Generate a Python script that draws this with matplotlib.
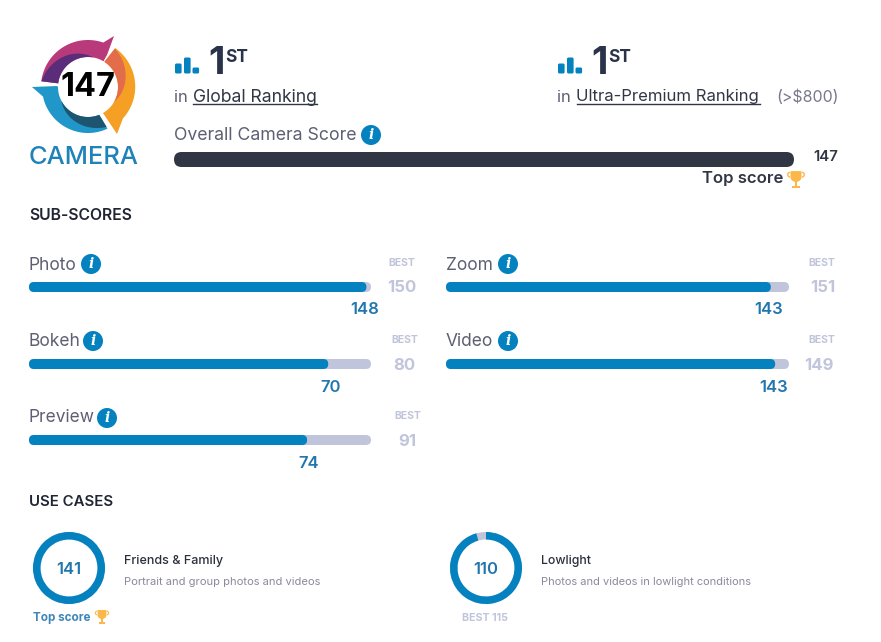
import numpy as np
import matplotlib
matplotlib.use("Agg")
import matplotlib.pyplot as plt
from matplotlib.patches import Circle, FancyBboxPatch, Polygon, Wedge

# Scores
camera_score = 147
camera_best = 147
rank_text = ["Global Ranking", "Ultra-Premium Ranking"]
sub_names = ["Photo", "Bokeh", "Preview", "Zoom", "Video"]
sub_scores = [148, 70, 74, 143, 143]
sub_best = [150, 80, 91, 151, 149]
case_names = ["Friends & Family", "Lowlight"]
case_desc = ["Portrait and group photos and videos", "Photos and videos in lowlight conditions"]
case_scores = [141, 110]
case_best = [141, 115]

BLUE = "#0481bf"
GREY = "#c1c5dc"
DARK = "#303644"
LABEL = "#5e5f73"
VALUE = "#2276ae"
GOLD = "#fbb848"
FONT = "Inter"

plt.rcParams["font.family"] = [FONT, "DejaVu Sans"]

fig = plt.figure(figsize=(8.81, 6.42), dpi=100)
ax = fig.add_axes([0, 0, 1, 1])
ax.set_xlim(0, 881)
ax.set_ylim(642, 0)
ax.axis("off")
renderer = fig.canvas.get_renderer()


def txt(x, y, s, size, color, weight="normal", ha="left", width=None, **kw):
    t = ax.text(x, y + 2, s, fontsize=size, color=color, fontweight=weight,
                ha=ha, va="center", **kw)
    if width is not None:
        # scale the font so the string spans the wanted number of pixels
        t.set_fontsize(size * width / t.get_window_extent(renderer).width)
    return t


def rbar(x, y, w, h, color, z=2, r=None):
    r = h / 2 if r is None else r
    w = max(w, 2 * r)
    ax.add_patch(FancyBboxPatch((x + r, y + r), w - 2 * r, h - 2 * r,
                                boxstyle=f"round,pad={r},rounding_size={r}",
                                fc=color, ec="none", zorder=z))


def info(x, y):
    ax.add_patch(Circle((x, y), 10, fc=BLUE, ec="none", zorder=3))
    ax.text(x, y, "i", fontsize=10, color="white", family="DejaVu Serif",
            style="italic", fontweight="bold", ha="center", va="center", zorder=4)


def trophy(x, y, s=1.0, sy=1.0):
    # small cup with two handles and a foot
    a = np.linspace(0, np.pi, 20)
    cup = [(x - 5.5 * s, y - 7 * sy), (x + 5.5 * s, y - 7 * sy)]
    cup += [(x + 5.5 * s * np.cos(t), y - 2 * sy + 4 * sy * np.sin(t)) for t in a]
    ax.add_patch(Polygon(cup, fc=GOLD, ec="none", zorder=3))
    for side in (-1, 1):
        hx = x + side * 6 * s
        ax.add_patch(Wedge((hx, y - 4 * sy), 3 * s,
                           -90 if side > 0 else 90, 90 if side > 0 else 270,
                           width=1.4 * s, fc=GOLD, ec="none", zorder=3))
    ax.add_patch(Polygon([(x - 1.2 * s, y + 1 * sy), (x + 1.2 * s, y + 1 * sy),
                          (x + 1.2 * s, y + 5 * sy), (x + 4 * s, y + 5 * sy),
                          (x + 4 * s, y + 7 * sy), (x - 4 * s, y + 7 * sy),
                          (x - 4 * s, y + 5 * sy), (x - 1.2 * s, y + 5 * sy)],
                         fc=GOLD, ec="none", zorder=3))


def rank_icon(x):
    for dx, top in zip((0, 9, 17.5), (63.5, 57.5, 67.5)):
        rbar(x + dx, top, 6.6, 73.5 - top, BLUE, r=1.5)


# Clockwise-from-top angle to pixel position
def pt(r, deg, cx=88, cy=87):
    t = np.radians(deg)
    return np.column_stack([cx + r * np.sin(t), cy - r * np.cos(t)])


def logo_band(a0, a1, r0, r1, b0, b1, r_in, color, tip=None, z=2):
    # outer edge from a0 to a1 (radius r0 to r1), inner edge back from b1 to b0
    a = np.linspace(a0, a1, 60)
    b = np.linspace(b1, b0, 60)
    parts = [pt(np.linspace(r0, r1, 60), a)]
    if tip is not None:
        parts.append(np.array(tip))
    parts.append(pt(r_in, b))
    ax.add_patch(Polygon(np.vstack(parts), fc=color, ec="none", zorder=z))


# Logo badge
logo_band(-83, 19, 47, 47, -83, 31, 30, "#b93a7b", tip=[(114, 36), (107, 55)])
logo_band(-83, 10, 47, 30, -83, 10, 30, "#5a2c7a", z=3)
logo_band(35, 132, 47.5, 47, 33, 150, 30, "#f5a025", tip=[(117, 134), (105, 116)])
logo_band(35, 120, 47, 30, 33, 120, 30, "#e36c4a", z=3)
logo_band(155, 258, 46, 46, 158, 270, 30, "#2196c9", tip=[(32, 87), (57, 86)])
logo_band(155, 243, 44, 30, 158, 243, 30, "#1d5570", z=3)
txt(88.5, 86, "147", 26, "black", "bold", ha="center", zorder=5, width=55)
txt(84, 155, "CAMERA", 18, "#1f82b8", "medium", ha="center", width=110)

# Rankings
for x, name, w in zip((175, 558), rank_text, (124, 183)):
    rank_icon(x)
    txt(x + 49.5, 62, "1", 27.5, "#2a3349", "bold", ha="right")
    txt(x + 50, 55, "ST", 13.5, "#2a3349", "bold", width=23)
    txt(x - 1, 95, "in", 12, LABEL)
    txt(x + 18, 95, name, 12, DARK, width=w)
ax.plot([193, 317], [104, 104], color=DARK, lw=1)
ax.plot([577, 760], [104, 104], color=DARK, lw=1)
txt(776, 95, "(>$800)", 12, "#77788a", width=62)

# Overall score bar
txt(174, 133, "Overall Camera Score", 12, LABEL, width=183)
info(371, 135)
rbar(174, 152, 620 * camera_score / camera_best, 15, DARK)
txt(838, 155, str(camera_score), 11, DARK, "semibold", ha="right", width=25)
txt(783, 177, "Top score", 11, DARK, "semibold", ha="right", width=81)
trophy(796, 179.5, 1.0, 1.2)

# Sub-scores
txt(29, 213, "SUB-SCORES", 11, "#1f2532", "semibold", width=103)
sub_x = [29, 29, 29, 446, 446]
sub_w = [342, 342, 342, 343, 343]
sub_y = [282, 359, 435, 282, 359]
label_y = [263, 339, 416, 263, 339]
info_y = [264, 341, 418, 264, 341]
info_x = [91, 93, 107, 508, 508]
best_label_r = [415, 418, 421, 835, 835]
best_r = [416, 415, 416, 835, 834]
value_dx = [-2, 2, 2, -2, -2]
for i, name in enumerate(sub_names):
    x, y, w = sub_x[i], sub_y[i], sub_w[i]
    txt(x, label_y[i], name, 12.5, LABEL)
    info(info_x[i], info_y[i])
    rbar(x, y, w, 10, GREY)
    fill = w * sub_scores[i] / sub_best[i]
    rbar(x, y, fill, 10, BLUE, z=3)
    txt(x + fill + value_dx[i], y + 26, str(sub_scores[i]), 12, VALUE, "semibold", ha="center")
    txt(best_label_r[i], y - 21, "BEST", 7.5, GREY, "bold", ha="right")
    txt(best_r[i], y + 4, str(sub_best[i]), 12, GREY, "bold", ha="right")

# Use cases
txt(29, 500, "USE CASES", 11, "#1f2532", "semibold", width=84)
case_x = [69, 486]
name_w = [99, 50]
desc_w = [198, 211]
for i, name in enumerate(case_names):
    cx = case_x[i]
    cy = 568
    frac = case_scores[i] / case_best[i]
    ax.add_patch(Wedge((cx, cy), 36, 0, 360, width=7.5, fc=GREY, ec="none", zorder=2))
    # y axis is flipped, so angles here run clockwise on screen
    ax.add_patch(Wedge((cx, cy), 36, -90, -90 + 360 * frac, width=7.5, fc=BLUE, ec="none", zorder=3))
    txt(cx, cy, str(case_scores[i]), 12, VALUE, "semibold", ha="center")
    txt(cx + 55, 559, name, 8.5, "#2a2f3a", "medium", width=name_w[i])
    txt(cx + 55, 580, case_desc[i], 6.8, "#8b8a9e", width=desc_w[i])
txt(33, 616, "Top score", 8, "#3f86bb", "bold", width=58)
trophy(102, 617, 0.8, 1.0)
txt(485, 616, f"BEST {case_best[1]}", 8, GREY, "bold", ha="center", width=46)

fig.savefig("out.png", dpi=100, facecolor="white")
